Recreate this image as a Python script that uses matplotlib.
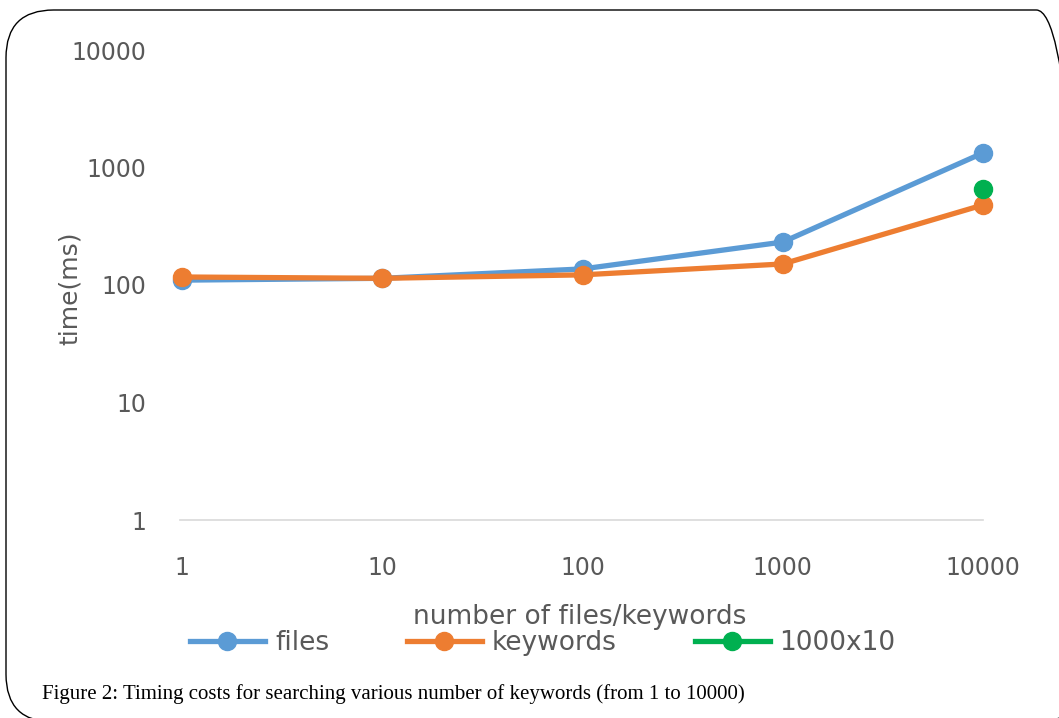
import matplotlib
matplotlib.use("Agg")
import matplotlib.pyplot as plt
from matplotlib.patches import FancyBboxPatch
from matplotlib.lines import Line2D

categories = ["1", "10", "100", "1000", "10000"]
files = [110, 114, 137, 232, 1330]
keywords = [117, 114, 122, 151, 480]
combo_x = ["10000"]
combo = [656]
y_ticks = [1, 10, 100, 1000, 10000]
y_tick_labels = ["1", "10", "100", "1000", "10000"]

W, H = 1059, 718
fig = plt.figure(figsize=(W / 100, H / 100), dpi=100)
fig.patch.set_facecolor("white")

def fx(px):
    return px / W

def fy(py):
    return 1 - py / H

SANS = "DejaVu Sans"
TXT = "#595959"

# rounded frame
frame = FancyBboxPatch((fx(6), fy(722)), fx(1084) - fx(6), fy(10) - fy(722),
                       boxstyle="round,pad=0,rounding_size=0.045",
                       transform=fig.transFigure, facecolor="none",
                       edgecolor="black", linewidth=1.0, mutation_aspect=W / H)
fig.patches.append(frame)

ax = fig.add_axes([fx(180), fy(520), fx(983) - fx(180), fy(50) - fy(520)])
ax.set_yscale("log")
ax.set_ylim(1, 10000)
ax.set_xlim(-0.01, 3.985)

xpos = list(range(len(categories)))
blue = "#5B9BD5"
orange = "#ED7D31"
green = "#00B050"

ax.plot(xpos, files, color=blue, lw=3.8, marker="o", ms=13, clip_on=False,
        solid_capstyle="round", zorder=3)
ax.plot(xpos, keywords, color=orange, lw=3.8, marker="o", ms=13, clip_on=False,
        solid_capstyle="round", zorder=4)
ax.plot([categories.index(c) for c in combo_x], combo, color=green, lw=0,
        marker="o", ms=13, clip_on=False, zorder=5)

for s in ["top", "right", "left"]:
    ax.spines[s].set_visible(False)
ax.spines["bottom"].set_color("#D9D9D9")
ax.spines["bottom"].set_linewidth(1.2)

ax.set_yticks(y_ticks)
ax.set_yticklabels(y_tick_labels)
ax.yaxis.set_minor_locator(matplotlib.ticker.NullLocator())
ax.set_xticks(xpos)
ax.set_xticklabels(categories)
ax.tick_params(axis="both", length=0, labelsize=17, labelcolor=TXT)
ax.tick_params(axis="y", pad=24)
ax.tick_params(axis="x", pad=26)
for lab in ax.get_xticklabels() + ax.get_yticklabels():
    lab.set_fontfamily(SANS)

fig.text(fx(70), fy(288), "time(ms)", rotation=90, ha="center", va="center",
         fontsize=18, color=TXT, family=SANS)
fig.text(fx(580), fy(617), "number of files/keywords", ha="center", va="center",
         fontsize=19, color=TXT, family=SANS)

handles = [
    Line2D([], [], color=blue, lw=3.8, marker="o", ms=13),
    Line2D([], [], color=orange, lw=3.8, marker="o", ms=13),
    Line2D([], [], color=green, lw=3.8, marker="o", ms=13),
]
leg = fig.legend(handles, ["files", "keywords", "1000x10"], loc="center left",
                 bbox_to_anchor=(fx(190), fy(643)), bbox_transform=fig.transFigure,
                 ncol=3, frameon=False, handlelength=2.84,
                 handletextpad=0.38, columnspacing=2.95, borderpad=0,
                 borderaxespad=0, prop={"family": SANS, "size": 19})
for t in leg.get_texts():
    t.set_color(TXT)

fig.text(fx(42), fy(694), "Figure 2: Timing costs for searching various number of keywords (from 1 to 10000)",
         ha="left", va="center", fontsize=15, color="black", family="Liberation Serif")

fig.savefig("out.png", dpi=100, facecolor="white")
